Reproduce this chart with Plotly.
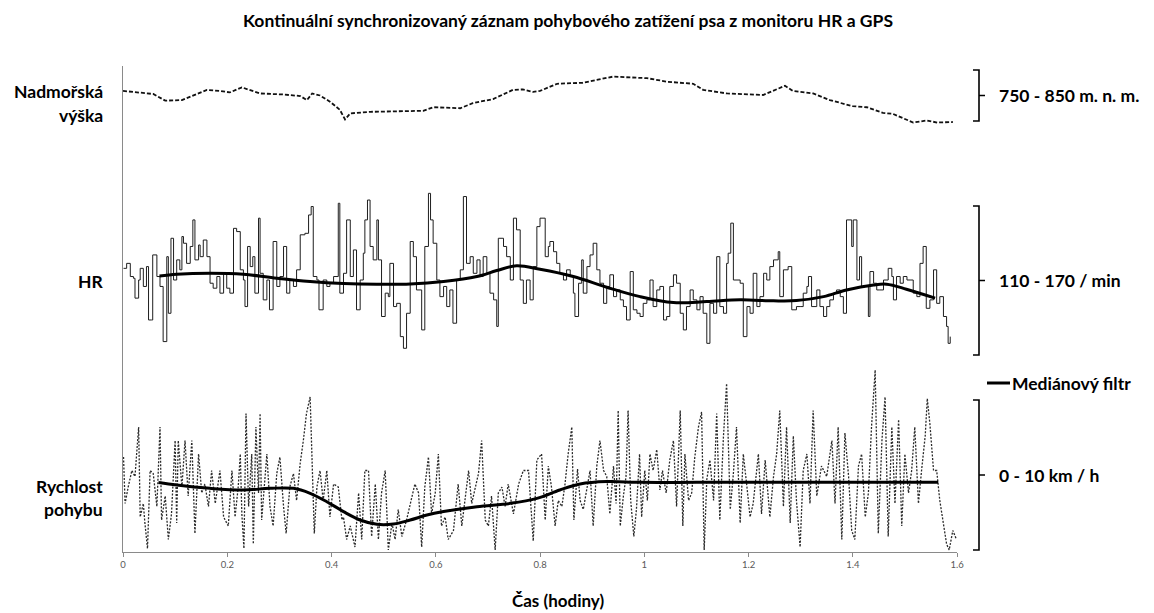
import plotly.graph_objects as go

# ---------------- data ----------------
# Altitude (m n. m.) vs time (hours)
alt_t = [0.000, 0.038, 0.058, 0.081, 0.113, 0.161, 0.186, 0.205, 0.228, 0.263,
         0.307, 0.340, 0.353, 0.363, 0.378, 0.397, 0.416, 0.426, 0.436, 0.474,
         0.576, 0.595, 0.647, 0.671, 0.710, 0.748, 0.767, 0.787, 0.800, 0.833,
         0.882, 0.940, 1.005, 1.044, 1.094, 1.113, 1.159, 1.228, 1.270, 1.285,
         1.324, 1.356, 1.400, 1.427, 1.458, 1.477, 1.516, 1.542, 1.562, 1.592]
alt_m = [809, 806, 803, 790, 791, 811, 809, 806, 816, 804,
         802, 799, 791, 804, 800, 788, 772, 753, 765, 768,
         770, 777, 775, 785, 793, 811, 812, 807, 809, 823,
         825, 837, 834, 827, 823, 811, 804, 801, 819, 809,
         804, 791, 779, 777, 766, 764, 747, 751, 747, 748]

# Heart rate (/min)
hr_t = [0.001, 0.007, 0.014, 0.020, 0.023, 0.030, 0.033, 0.039, 0.045, 0.049,
        0.055, 0.057, 0.065, 0.071, 0.077, 0.084, 0.087, 0.092, 0.097, 0.103,
        0.109, 0.113, 0.116, 0.122, 0.129, 0.134, 0.138, 0.145, 0.148, 0.154,
        0.161, 0.167, 0.173, 0.180, 0.186, 0.193, 0.199, 0.205, 0.212, 0.218,
        0.225, 0.231, 0.234, 0.239, 0.244, 0.249, 0.253, 0.260, 0.263, 0.269,
        0.276, 0.281, 0.288, 0.295, 0.301, 0.308, 0.314, 0.320, 0.327, 0.333,
        0.340, 0.349, 0.356, 0.361, 0.365, 0.372, 0.376, 0.384, 0.391, 0.397,
        0.404, 0.413, 0.416, 0.423, 0.429, 0.436, 0.442, 0.448, 0.455, 0.461,
        0.464, 0.469, 0.474, 0.480, 0.487, 0.490, 0.496, 0.503, 0.509, 0.512,
        0.519, 0.525, 0.532, 0.538, 0.544, 0.551, 0.557, 0.563, 0.573, 0.579,
        0.586, 0.590, 0.595, 0.602, 0.608, 0.615, 0.621, 0.627, 0.633, 0.640,
        0.647, 0.653, 0.659, 0.666, 0.672, 0.679, 0.685, 0.691, 0.698, 0.704,
        0.711, 0.717, 0.720, 0.730, 0.736, 0.743, 0.749, 0.755, 0.762, 0.768,
        0.774, 0.781, 0.787, 0.794, 0.800,
        0.810, 0.816, 0.819, 0.826, 0.832, 0.838, 0.845, 0.851, 0.858, 0.864,
        0.867, 0.874, 0.880, 0.883, 0.890, 0.896, 0.902, 0.909, 0.915, 0.922,
        0.928, 0.934, 0.941, 0.947, 0.954, 0.960, 0.966, 0.973, 0.979, 0.986,
        0.992, 0.998, 1.005, 1.011, 1.017, 1.024, 1.030, 1.037, 1.043, 1.049,
        1.056, 1.062, 1.069, 1.075, 1.081, 1.088, 1.094, 1.101, 1.107, 1.113,
        1.120, 1.126, 1.133, 1.139, 1.145, 1.152, 1.158, 1.161, 1.166, 1.171,
        1.184, 1.190, 1.197, 1.203, 1.209, 1.216, 1.222, 1.229, 1.235, 1.241,
        1.248, 1.257, 1.260, 1.267, 1.276, 1.283, 1.292, 1.299, 1.305, 1.312,
        1.315, 1.321, 1.331, 1.337, 1.344, 1.350, 1.356, 1.363, 1.369, 1.376,
        1.382, 1.388, 1.398, 1.401, 1.408, 1.413, 1.417, 1.424, 1.430, 1.433,
        1.440, 1.446, 1.452, 1.459, 1.468, 1.475, 1.478, 1.484, 1.491, 1.497,
        1.504, 1.510, 1.516, 1.523, 1.529, 1.535, 1.541, 1.548, 1.555, 1.561,
        1.567, 1.574, 1.580, 1.583, 1.587]
hr_bpm = [144.9, 146.9, 141.6, 140.9, 132.9, 140.2, 144.9, 137.6, 145.6, 124.1,
          124.1, 150.3, 141.6, 137.6, 115.4, 149.6, 126.8, 157.0, 140.2, 148.3,
          144.3, 157.7, 155.0, 146.9, 153.7, 164.4, 148.3, 154.3, 149.6, 156.3,
          149.6, 138.9, 136.9, 141.6, 134.9, 142.9, 136.9, 134.9, 161.0, 159.7,
          144.3, 140.2, 129.5, 153.7, 145.6, 149.6, 134.9, 165.1, 142.9, 132.2,
          140.2, 128.2, 155.7, 137.6, 141.6, 153.7, 134.9, 140.2, 137.6, 144.3,
          158.4, 159.0, 166.4, 169.8, 141.6, 140.2, 128.2, 140.2, 137.6, 138.9,
          141.6, 171.1, 134.9, 142.9, 164.4, 141.6, 152.3, 128.2, 140.2, 151.0,
          164.4, 172.4, 153.7, 148.3, 164.4, 148.3, 125.5, 134.9, 133.5, 146.9,
          129.5, 130.8, 117.4, 112.7, 126.8, 155.7, 149.6, 136.2, 120.1, 153.7,
          175.1, 164.4, 155.0, 140.2, 133.5, 137.6, 129.5, 136.2, 122.8, 140.2,
          144.3, 173.8, 146.9, 149.6, 142.9, 148.3, 141.6, 149.6, 142.9, 134.9,
          132.2, 121.5, 157.0, 153.7, 149.6, 140.2, 165.1, 160.4, 140.2, 130.8,
          140.2, 132.2, 145.6, 161.7, 165.1,
          149.6, 153.7, 155.7, 151.6, 146.9, 142.9, 140.2, 144.3, 141.6, 134.9,
          125.5, 138.9, 148.3, 134.9, 145.6, 150.3, 155.0, 144.3, 138.9, 130.8,
          137.6, 142.3, 133.5, 136.2, 132.2, 129.5, 124.1, 143.6, 128.2, 126.8,
          125.5, 130.8, 132.2, 140.2, 129.5, 136.2, 137.6, 124.1, 125.5, 137.6,
          142.3, 138.9, 126.8, 120.1, 129.5, 136.2, 132.2, 128.2, 133.5, 126.8,
          114.7, 130.8, 126.8, 149.6, 129.5, 126.8, 146.9, 151.0, 163.1, 140.2,
          138.9, 117.4, 129.5, 126.8, 142.9, 129.5, 133.5, 142.9, 140.2, 145.6,
          148.3, 151.6, 133.5, 144.3, 145.6, 128.2, 129.5, 129.5, 134.9, 137.6,
          141.6, 129.5, 136.2, 129.5, 125.5, 129.5, 132.2, 134.9, 136.2, 133.5,
          126.8, 164.4, 153.7, 164.4, 140.2, 149.6, 137.6, 137.6, 125.5, 143.6,
          138.9, 136.2, 136.2, 140.2, 144.9, 141.6, 132.2, 141.6, 138.9, 141.6,
          140.2, 140.2, 134.9, 133.5, 146.9, 153.7, 128.8, 132.2, 144.3, 130.8,
          133.5, 125.5, 121.5, 114.7, 117.4]

# HR median filter
hr_med_t = [0.070, 0.103, 0.167, 0.231, 0.295, 0.359, 0.423, 0.487, 0.551, 0.615,
            0.679, 0.717, 0.755, 0.800, 0.864, 0.928, 0.992, 1.056, 1.120, 1.184,
            1.248, 1.292, 1.344, 1.388, 1.440, 1.465, 1.503, 1.558]
hr_med_bpm = [141.8, 142.5, 142.9, 142.5, 140.9, 139.6, 138.8, 138.5, 138.6, 139.6,
              141.6, 144.0, 145.9, 144.5, 141.6, 137.3, 133.5, 131.1, 131.5, 132.2,
              131.8, 131.9, 133.5, 136.2, 138.2, 138.5, 136.5, 132.9]

# Speed (km/h)
spd_t = [0.001, 0.004, 0.010, 0.017, 0.023, 0.030, 0.033, 0.039, 0.042, 0.047,
         0.052, 0.058, 0.065, 0.071, 0.074, 0.081, 0.087, 0.093, 0.100, 0.103,
         0.106, 0.113, 0.119, 0.125, 0.132, 0.138, 0.145, 0.151, 0.157, 0.164,
         0.170, 0.177, 0.186, 0.193, 0.202, 0.209, 0.215, 0.221, 0.225, 0.228,
         0.232, 0.236, 0.241, 0.247, 0.250, 0.255, 0.260, 0.263, 0.266, 0.276,
         0.282, 0.288, 0.295, 0.301, 0.308, 0.313, 0.320, 0.327, 0.333, 0.340,
         0.346, 0.352, 0.359, 0.362, 0.367, 0.372, 0.378, 0.384, 0.391, 0.397,
         0.404, 0.413, 0.420, 0.423, 0.429, 0.436, 0.445, 0.452, 0.458, 0.464,
         0.471, 0.477, 0.484, 0.490, 0.496, 0.503, 0.509, 0.516, 0.522, 0.528,
         0.535, 0.544, 0.551, 0.560, 0.567, 0.573, 0.579, 0.586, 0.592, 0.599,
         0.605, 0.611, 0.618, 0.624, 0.634, 0.643, 0.650, 0.656, 0.663, 0.669,
         0.675, 0.682, 0.688, 0.695, 0.701, 0.707, 0.714, 0.720, 0.727, 0.733,
         0.739, 0.749, 0.759, 0.768, 0.778, 0.787, 0.794,
         0.803, 0.810, 0.816, 0.822, 0.829, 0.835, 0.842, 0.848, 0.854, 0.861,
         0.865, 0.872, 0.877, 0.883, 0.890, 0.896, 0.902, 0.909, 0.915, 0.922,
         0.928, 0.934, 0.941, 0.946, 0.950, 0.954, 0.960, 0.965, 0.969, 0.974,
         0.980, 0.985, 0.991, 0.995, 1.001, 1.006, 1.011, 1.017, 1.024, 1.030,
         1.035, 1.042, 1.049, 1.056, 1.062, 1.069, 1.074, 1.078, 1.085, 1.091,
         1.097, 1.104, 1.110, 1.115, 1.120, 1.126, 1.133, 1.139, 1.145, 1.152,
         1.158, 1.165, 1.171, 1.177, 1.184, 1.190, 1.197, 1.203, 1.209, 1.219,
         1.225, 1.232, 1.241, 1.248, 1.254, 1.260, 1.267, 1.273, 1.280, 1.286,
         1.292, 1.299, 1.305, 1.312, 1.318, 1.324, 1.331, 1.340, 1.350, 1.360,
         1.366, 1.372, 1.379, 1.385, 1.392, 1.398, 1.404, 1.411, 1.417, 1.424,
         1.430, 1.436, 1.443, 1.449, 1.456, 1.462, 1.468, 1.475, 1.481, 1.488,
         1.494, 1.500, 1.507, 1.513, 1.519, 1.526, 1.532, 1.539, 1.543, 1.548,
         1.555, 1.561, 1.567, 1.574, 1.580, 1.585, 1.592, 1.599]
spd_kmh = [6.2, 3.1, 4.2, 5.3, 4.9, 8.2, 2.2, 3.1, 1.8, 0.1,
           5.3, 5.1, 2.9, 8.2, 2.0, 3.6, 0.7, 2.4, 7.3, 1.8,
           7.3, 4.2, 7.3, 3.6, 7.3, 1.1, 6.4, 3.8, 4.4, 2.9,
           5.3, 3.1, 5.3, 2.2, 1.6, 5.3, 2.2, 4.2, 6.4, 2.4,
           0.1, 9.1, 2.9, 6.4, 0.4, 8.2, 3.8, 9.1, 2.0, 6.4,
           2.9, 1.6, 5.1, 6.2, 2.9, 1.1, 4.2, 5.1, 3.3, 5.8,
           7.3, 9.1, 10.2, 6.4, 1.1, 4.2, 5.3, 3.3, 5.3, 2.2,
           4.4, 4.2, 2.0, 2.2, 0.7, 1.6, 0.2, 3.8, 0.7, 5.3,
           5.3, 0.9, 4.4, 0.7, 3.8, 5.3, 0.0, 1.8, 0.7, 2.7,
           0.9, 2.0, 3.1, 4.4, 3.8, 0.2, 4.2, 6.2, 2.4, 3.8,
           6.4, 1.6, 2.2, 0.7, 1.3, 4.4, 1.6, 3.3, 5.3, 3.1,
           4.0, 5.1, 7.3, 2.0, 1.6, 3.6, 0.0, 3.8, 4.2, 2.9,
           4.4, 2.4, 4.4, 5.3, 5.3, 0.6, 6.0,
           6.4, 2.0, 5.6, 4.2, 1.6, 3.3, 2.9, 4.4, 6.4, 8.2,
           2.0, 5.4, 3.3, 2.7, 4.2, 5.3, 1.6, 5.6, 7.3, 5.3,
           4.9, 2.4, 5.6, 3.1, 9.3, 1.6, 3.6, 4.9, 9.3, 3.3,
           0.9, 2.7, 6.4, 2.2, 5.3, 3.3, 6.4, 5.3, 6.7, 4.0,
           5.3, 3.8, 6.0, 7.3, 2.9, 9.3, 1.6, 6.4, 3.3, 3.8,
           6.2, 8.2, 9.2, 0.0, 4.7, 6.0, 3.3, 9.1, 2.0, 7.6,
           11.1, 2.7, 5.1, 8.2, 1.8, 6.4, 4.2, 2.2, 3.1, 6.4,
           2.4, 6.0, 2.2, 4.9, 6.4, 9.3, 2.9, 8.2, 1.8, 7.6,
           3.3, 0.2, 5.3, 6.4, 3.1, 9.3, 3.6, 5.6, 4.9, 7.3,
           3.1, 8.2, 0.7, 7.8, 4.9, 1.3, 0.7, 5.6, 6.4, 2.2,
           3.8, 8.2, 12.0, 1.1, 7.3, 10.2, 0.9, 8.2, 3.1, 8.7,
           1.6, 6.4, 3.8, 5.3, 8.2, 3.1, 5.3, 7.6, 10.1, 8.4,
           5.3, 5.3, 3.3, 1.6, 0.4, 0.0, 1.3, 0.7]

# Speed median filter
spd_med_t = [0.068, 0.103, 0.167, 0.231, 0.282, 0.327, 0.359, 0.391, 0.423, 0.455,
             0.487, 0.519, 0.551, 0.583, 0.615, 0.679, 0.743, 0.794, 0.838, 0.877,
             0.928, 0.992, 1.100, 1.200, 1.300, 1.400, 1.500, 1.564]
spd_med_kmh = [4.50, 4.33, 4.11, 4.00, 4.11, 4.11, 3.78, 3.22, 2.56, 2.00,
               1.71, 1.73, 2.00, 2.33, 2.56, 2.89, 3.11, 3.44, 4.00, 4.40,
               4.56, 4.51, 4.51, 4.51, 4.51, 4.51, 4.51, 4.51]

x_ticks = [0, 0.2, 0.4, 0.6, 0.8, 1.0, 1.2, 1.4, 1.6]
x_tick_labels = ["0", "0.2", "0.4", "0.6", "0.8", "1", "1.2", "1.4", "1.6"]

title_text = "Kontinuální synchronizovaný záznam pohybového zatížení psa z monitoru HR a GPS"
x_title = "Čas (hodiny)"
alt_label = ["Nadmořská", "výška"]
hr_label = ["HR"]
spd_label = ["Rychlost", "pohybu"]
alt_range_label = "750 - 850 m. n. m."
hr_range_label = "110 - 170 / min"
spd_range_label = "0 - 10 km / h"
median_label = "Mediánový filtr"
alt_span = (850, 750)
hr_span = (170, 110)
spd_span = (10, 0)

# ---------------- layout geometry ----------------
W, H = 1154, 613
PX_L, PX_R = 123, 957
PY_T, PY_B = 66, 552
FONT = "Lato"
LABEL_SIZE = 17.5


def px2paper(px):
    return (px - PX_L) / (PX_R - PX_L)


def py2paper(py):
    return (PY_B - py) / (PY_B - PY_T)


def axis_range(p_top, p_bot, v_top, v_bot):
    s = (v_top - v_bot) / (p_bot - p_top)
    return [v_bot - (PY_B - p_bot) * s, v_top + (p_top - PY_T) * s]


alt_range = axis_range(70, 121, *alt_span)
hr_range = axis_range(206, 355, *hr_span)
spd_range = axis_range(400, 550, *spd_span)

fig = go.Figure()

fig.add_trace(go.Scatter(x=alt_t, y=alt_m, yaxis="y3", mode="lines",
                         line=dict(color="#111111", width=1.8, dash="4px,2px"),
                         hoverinfo="skip"))
fig.add_trace(go.Scatter(x=hr_t, y=hr_bpm, yaxis="y2", mode="lines",
                         line=dict(color="#1e1e1e", width=1, shape="hv"),
                         hoverinfo="skip"))
fig.add_trace(go.Scatter(x=hr_med_t, y=hr_med_bpm, yaxis="y2", mode="lines",
                         line=dict(color="black", width=3, shape="spline"),
                         hoverinfo="skip"))
fig.add_trace(go.Scatter(x=spd_t, y=spd_kmh, yaxis="y", mode="lines",
                         line=dict(color="#2a2a2a", width=1.3, dash="2px,1.5px"),
                         hoverinfo="skip"))
fig.add_trace(go.Scatter(x=spd_med_t, y=spd_med_kmh, yaxis="y", mode="lines",
                         line=dict(color="black", width=3, shape="spline"),
                         hoverinfo="skip"))

shapes = []
annotations = []

# Right brackets with range labels
hook_x, vert_x, tick_x = px2paper(973), px2paper(979), px2paper(985)
for yref, (v_top, v_bot), label in [("y3", alt_span, alt_range_label),
                                    ("y2", hr_span, hr_range_label),
                                    ("y", spd_span, spd_range_label)]:
    mid = (v_top + v_bot) / 2
    shapes.append(dict(type="path", xref="paper", yref=yref,
                       path=f"M {hook_x},{v_top} L {vert_x},{v_top} L {vert_x},{v_bot} L {hook_x},{v_bot} "
                            f"M {vert_x},{mid} L {tick_x},{mid}",
                       line=dict(color="black", width=1.6)))
    annotations.append(dict(xref="paper", yref=yref, x=px2paper(997), y=mid,
                            xanchor="left", yanchor="middle", showarrow=False,
                            text=f"<b>{label}</b>",
                            font=dict(family=FONT, size=LABEL_SIZE, color="black")))

# Median filter legend
shapes.append(dict(type="line", xref="paper", yref="paper",
                   x0=px2paper(987), x1=px2paper(1010), y0=py2paper(383), y1=py2paper(383),
                   line=dict(color="black", width=3)))
annotations.append(dict(xref="paper", yref="paper", x=px2paper(1010), y=py2paper(383),
                        xanchor="left", yanchor="middle", showarrow=False,
                        text=f"<b>{median_label}</b>",
                        font=dict(family=FONT, size=LABEL_SIZE, color="black")))

# Left labels
for lines, centers in [(alt_label, [92, 116]), (hr_label, [281]), (spd_label, [486, 509])]:
    for txt, cy in zip(lines, centers):
        annotations.append(dict(xref="paper", yref="paper", x=px2paper(105), y=py2paper(cy),
                                xanchor="right", yanchor="middle", showarrow=False,
                                text=f"<b>{txt}</b>",
                                font=dict(family=FONT, size=LABEL_SIZE, color="black")))

# Title & x-axis title
annotations.append(dict(xref="paper", yref="paper", x=px2paper(568), y=py2paper(20),
                        xanchor="center", yanchor="middle", showarrow=False,
                        text=f"<b>{title_text}</b>",
                        font=dict(family=FONT, size=17.5, color="black")))
annotations.append(dict(xref="paper", yref="paper", x=px2paper(558), y=py2paper(600),
                        xanchor="center", yanchor="middle", showarrow=False,
                        text=f"<b>{x_title}</b>",
                        font=dict(family=FONT, size=17, color="black")))

fig.update_layout(
    width=W, height=H,
    margin=dict(l=PX_L, r=W - PX_R, t=PY_T, b=H - PY_B, autoexpand=False),
    paper_bgcolor="white", plot_bgcolor="white",
    showlegend=False,
    font=dict(family=FONT, color="black"),
    xaxis=dict(range=[0, 1.6], tickmode="array", tickvals=x_ticks, ticktext=x_tick_labels,
               showline=True, linecolor="#8a8a8a", linewidth=1,
               ticks="outside", ticklen=4, tickcolor="#8a8a8a",
               tickfont=dict(family=FONT, size=9.5, color="#595959"),
               showgrid=False, zeroline=False),
    yaxis=dict(range=spd_range, showline=True, linecolor="#8a8a8a", linewidth=1,
               showticklabels=False, ticks="", showgrid=False, zeroline=False),
    yaxis2=dict(range=hr_range, overlaying="y", visible=False),
    yaxis3=dict(range=alt_range, overlaying="y", visible=False),
    shapes=shapes,
    annotations=annotations,
)

fig.write_html("out.html")
